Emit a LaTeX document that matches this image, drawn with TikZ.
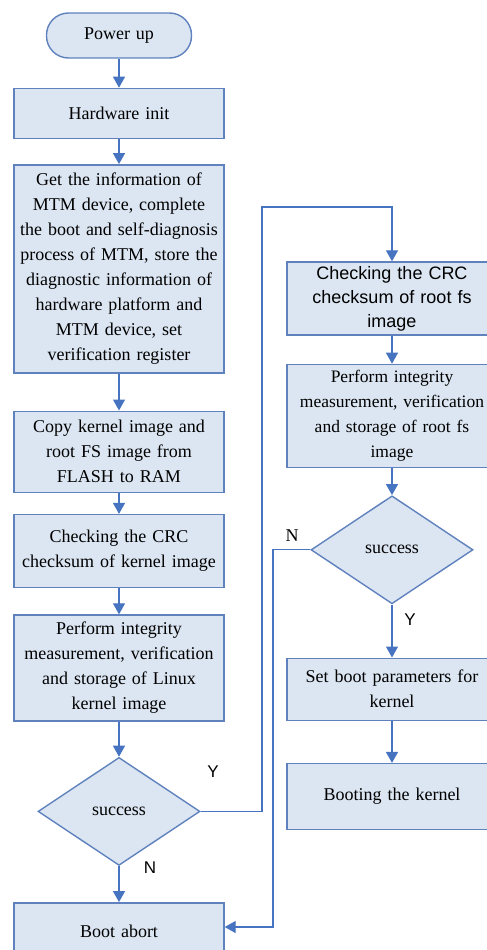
\documentclass[tikz,border=0pt]{standalone}
\usepackage{fontspec}
\setmainfont{Liberation Serif}
\setsansfont{Liberation Sans}
\usepackage{tikz}
\usetikzlibrary{arrows.meta,positioning,shapes.geometric}

\definecolor{boxfill}{HTML}{DCE6F2}
\definecolor{boxline}{HTML}{5F82BE}
\definecolor{arrblue}{HTML}{4674C1}

\begin{document}
\begin{tikzpicture}[
      x=1pt, y=-1pt,
      font=\fontsize{18}{25}\selectfont,
      box/.style={draw=boxline, line width=1.4pt, fill=boxfill, text width=208pt, inner xsep=1pt, inner ysep=4pt, align=center},
      term/.style={box, text width=143pt, minimum height=45pt, rounded corners=22pt},
      dec/.style={diamond, draw=boxline, line width=1.4pt, fill=boxfill, inner sep=1pt, minimum width=162pt, minimum height=108pt},
      arr/.style={-{Triangle[width=12pt,length=11pt]}, arrblue, line width=1.3pt},
      lbl/.style={text=black, font=\sffamily\fontsize{17}{20}\selectfont},
      node distance=26pt,
    ]
    \useasboundingbox (0,0) rectangle (487,950);

    % Left column: boot and kernel check
    \node (start) [term] at (119,35.5) {Power up};
    \node (hw) [box, minimum height=50pt, below=29pt of start] {Hardware init};
    \node (info) [box, minimum height=208pt, below=25pt of hw] {Get the information of\\MTM device, complete\\the boot and self-diagnosis\\process of MTM, store the\\diagnostic information of\\hardware platform and\\MTM device, set\\verification register};
    \node (copy) [box, minimum height=81pt, below=37pt of info] {Copy kernel image and\\root FS image from\\FLASH to RAM};
    \node (crck) [box, minimum height=73pt, below=21pt of copy] {Checking the CRC\\checksum of kernel image};
    \node (intk) [box, minimum height=106pt, below=of crck] {Perform integrity\\measurement, verification\\and storage of Linux\\kernel image};
    \node (dec1) [dec, below=35pt of intk] {success};
    \node (abort) [box, minimum height=58pt, below=36pt of dec1] {Boot abort};

    % Right column: root fs check
    \node (crcr) [box, minimum height=73pt, font=\sffamily\fontsize{18}{24}\selectfont] at (392,298.5) {Checking the CRC\\checksum of root fs\\image};
    \node (intr) [box, minimum height=103pt, below=28pt of crcr, font=\fontsize{17.5}{25}\selectfont] {Perform integrity\\measurement, verification\\and storage of root fs\\image};
    \node (dec2) [dec, below=27pt of intr] {success};
    \node (setb) [box, minimum height=62pt, below=53pt of dec2] {Set boot parameters for\\kernel};
    \node (bootk) [box, minimum height=66pt, below=42pt of setb] {Booting the kernel};

    \coordinate (ytop) at (262,207);
    \coordinate (nbot) at (273,927);

    \draw [arr] (start) -- (hw);
    \draw [arr] (hw) -- (info);
    \draw [arr] (info) -- (copy);
    \draw [arr] (copy) -- (crck);
    \draw [arr] (crck) -- (intk);
    \draw [arr] (intk) -- (dec1);
    \draw [arr] (dec1) -- (abort);
    \node [lbl] at (150,868) {N};
    \draw [arr] (dec1.east) -| (ytop) -| (crcr.north);
    \node [lbl] at (213,772) {Y};

    \draw [arr] (crcr) -- (intr);
    \draw [arr] (intr) -- (dec2);
    \draw [arr] (dec2) -- (setb);
    \node [lbl] at (410,620) {Y};
    \draw [arr] (setb) -- (bootk);
    \draw [arr] (dec2.west) -| (nbot) -- (nbot -| abort.east);
    \node [font=\fontsize{18}{20}\selectfont] at (292,536) {N};
  \end{tikzpicture}
\end{document}
